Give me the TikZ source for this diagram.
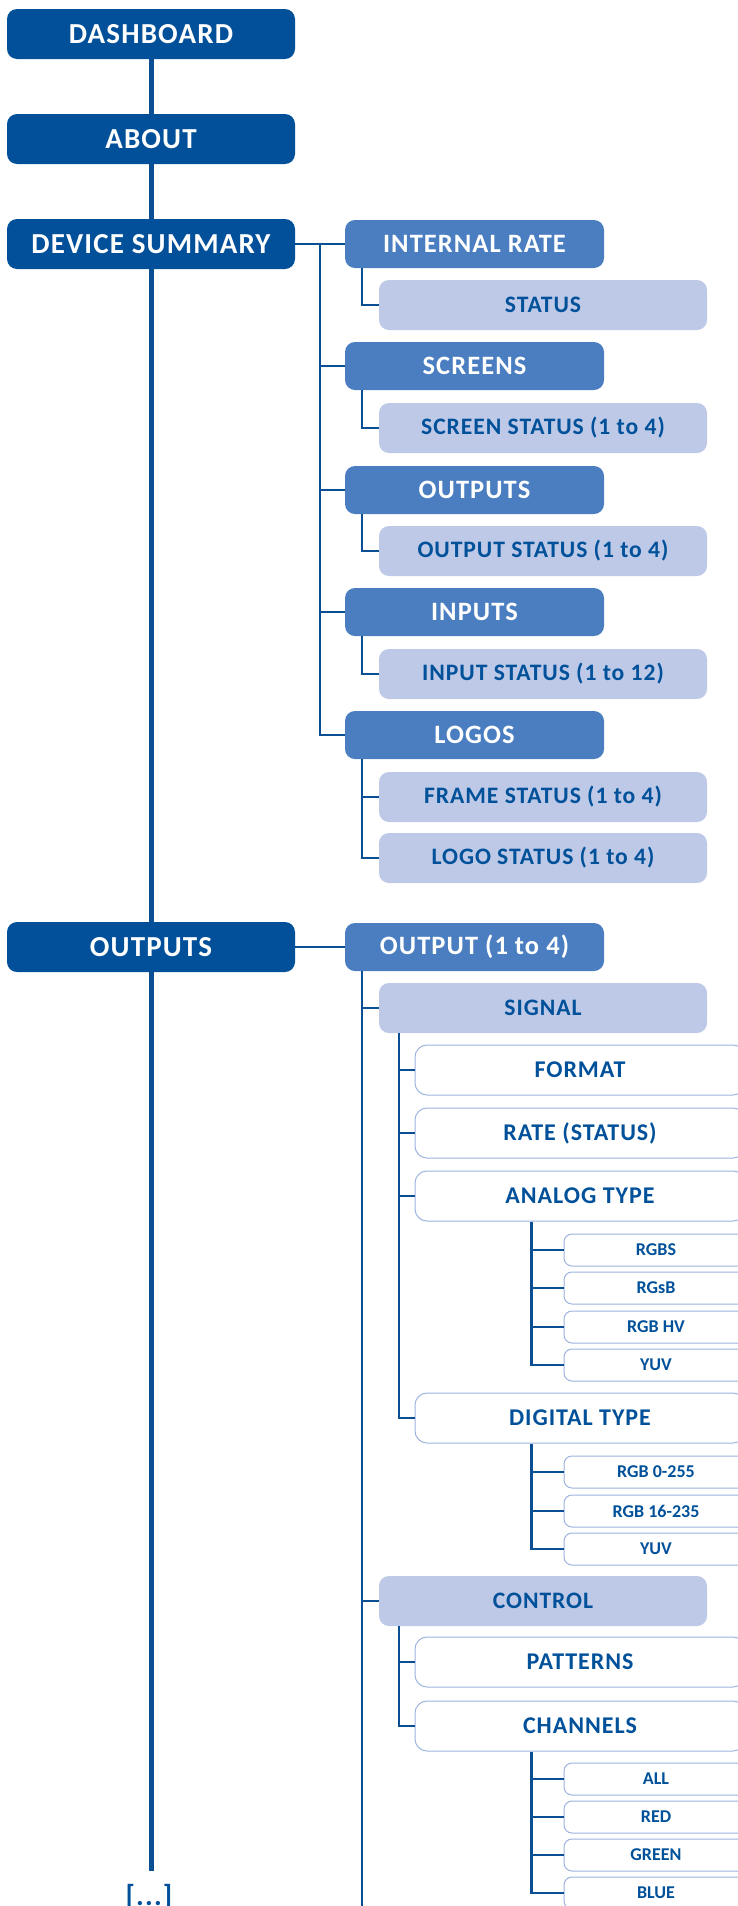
\documentclass[tikz,border=0pt]{standalone}
\usepackage{fontspec}
\setmainfont{Carlito}[LetterSpace=4]
\newfontfamily\tightfont{Carlito}
\usetikzlibrary{positioning,calc}
\definecolor{menuNavy}{HTML}{03509A}
\definecolor{menuMid}{HTML}{4A7EC1}
\definecolor{menuPale}{HTML}{BEC9E7}
\definecolor{menuEdge}{HTML}{9DB3E0}
\definecolor{menuText}{HTML}{00519A}
\definecolor{menuLink}{HTML}{0A4F94}

\begin{document}
\begin{tikzpicture}[x=1pt,y=-1pt,
  topbox/.style={fill=menuNavy,text=white,rounded corners=10pt,minimum width=288pt,minimum height=50pt,font=\fontsize{29}{32}\selectfont\bfseries},
  subbox/.style={fill=menuMid,text=white,rounded corners=10pt,minimum width=259pt,minimum height=48pt,font=\fontsize{26.5}{29}\selectfont\bfseries},
  leafbox/.style={fill=menuPale,text=menuText,rounded corners=10pt,minimum width=328pt,minimum height=50pt,font=\fontsize{23.6}{27}\selectfont\bfseries},
  optbox/.style={draw=menuEdge,line width=1pt,fill=white,text=menuText,rounded corners=12pt,minimum width=330pt,minimum height=50pt,font=\fontsize{24}{27}\selectfont\bfseries},
  valbox/.style={draw=menuEdge,line width=1pt,fill=white,text=menuText,rounded corners=8pt,minimum width=184pt,minimum height=32pt,font=\tightfont\fontsize{18}{20}\selectfont\bfseries},
  link/.style={draw=menuLink,line width=2.6pt},
  spine/.style={draw=menuLink,line width=5pt}]
\useasboundingbox (0,0) rectangle (737,1906);

% main column
\node[topbox] (dash) at (151,34) {DASHBOARD};
\node[topbox] (about) at (151,139) {ABOUT};
\node[topbox] (summ) at (151,244) {DEVICE SUMMARY};
\node[topbox] (outputs) at (151,947) {OUTPUTS};
\node[text=menuText,anchor=base,inner sep=0pt,outer sep=13pt,font=\fontsize{29}{31}\selectfont\bfseries] (more) at (149,1905) {[...]};

% device summary
\node[subbox] (irate) at (474.5,244) {INTERNAL RATE};
\node[leafbox] (status) at (543,305) {STATUS};
\node[subbox] (screens) at (474.5,366) {SCREENS};
\node[leafbox] (scrstat) at (543,428) {SCREEN STATUS (1 to 4)};
\node[subbox] (outs) at (474.5,490) {OUTPUTS};
\node[leafbox] (outstat) at (543,551) {OUTPUT STATUS (1 to 4)};
\node[subbox] (ins) at (474.5,612) {INPUTS};
\node[leafbox] (instat) at (543,674) {INPUT STATUS (1 to 12)};
\node[subbox] (logos) at (474.5,735) {LOGOS};
\node[leafbox] (framestat) at (543,797) {FRAME STATUS (1 to 4)};
\node[leafbox] (logostat) at (543,858) {LOGO STATUS (1 to 4)};

% outputs
\node[subbox] (out) at (474.5,947) {OUTPUT (1 to 4)};
\node[leafbox] (signal) at (543,1008) {SIGNAL};
\node[optbox] (format) at (580,1070) {FORMAT};
\node[optbox] (rate) at (580,1133) {RATE (STATUS)};
\node[optbox] (analog) at (580,1196) {ANALOG TYPE};
\node[valbox] (rgbs) at (656,1250) {RGBS};
\node[valbox] (rgsb) at (656,1288) {RGsB};
\node[valbox] (rgbhv) at (656,1327) {RGB HV};
\node[valbox] (ayuv) at (656,1365) {YUV};
\node[optbox] (digital) at (580,1418) {DIGITAL TYPE};
\node[valbox] (full) at (656,1472) {RGB 0-255};
\node[valbox] (limited) at (656,1511) {RGB 16-235};
\node[valbox] (dyuv) at (656,1549) {YUV};
\node[leafbox] (control) at (543,1601) {CONTROL};
\node[optbox] (patterns) at (580,1662) {PATTERNS};
\node[optbox] (channels) at (580,1726) {CHANNELS};
\node[valbox] (chall) at (656,1779) {ALL};
\node[valbox] (chred) at (656,1817) {RED};
\node[valbox] (chgreen) at (656,1855) {GREEN};
\node[valbox] (chblue) at (656,1893) {BLUE};

% spine
\draw[spine] (dash.south) -- (about.north);
\draw[spine] (about.south) -- (summ.north);
\draw[spine] (summ.south) -- (outputs.north);
\draw[spine] (outputs.south) -- (outputs.south |- more.north);

% device summary links
\draw[link] (summ.east) -- (irate.west);
\coordinate (st) at ($(summ.east)!0.5!(irate.west)$);
\draw[link] (st) |- (logos.west);
\foreach \n in {screens,outs,ins}{\draw[link] (st |- \n.west) -- (\n.west);}
\foreach \a/\b in {irate/status,screens/scrstat,outs/outstat,ins/instat,logos/logostat}{\draw[link] ([xshift=17pt]\a.south west) |- (\b.west);}
\coordinate (lg) at ([xshift=17pt]logos.south west);
\draw[link] (lg |- framestat.west) -- (framestat.west);

% outputs links
\draw[link] (outputs.east) -- (out.west);
\coordinate (ot) at ([xshift=17pt]out.south west);
\coordinate (cutoff) at (0,1912);
\draw[link] (ot) -- (ot |- cutoff);
\foreach \n in {signal,control}{\draw[link] (ot |- \n.west) -- (\n.west);}
\coordinate (sg) at ([xshift=20pt]signal.south west);
\draw[link] (sg) |- (digital.west);
\foreach \n in {format,rate,analog}{\draw[link] (sg |- \n.west) -- (\n.west);}
\coordinate (ct) at ([xshift=20pt]control.south west);
\draw[link] (ct) |- (channels.west);
\draw[link] (ct |- patterns.west) -- (patterns.west);

\coordinate (an) at ($(analog.south -| rgbs.west)+(-32,0)$);
\draw[link] (an) |- (ayuv.west);
\foreach \n in {rgbs,rgsb,rgbhv}{\draw[link] (an |- \n.west) -- (\n.west);}
\coordinate (dg) at ($(digital.south -| full.west)+(-32,0)$);
\draw[link] (dg) |- (dyuv.west);
\foreach \n in {full,limited}{\draw[link] (dg |- \n.west) -- (\n.west);}
\coordinate (ch) at ($(channels.south -| chall.west)+(-32,0)$);
\draw[link] (ch) |- (chblue.west);
\foreach \n in {chall,chred,chgreen}{\draw[link] (ch |- \n.west) -- (\n.west);}
\end{tikzpicture}
\end{document}
